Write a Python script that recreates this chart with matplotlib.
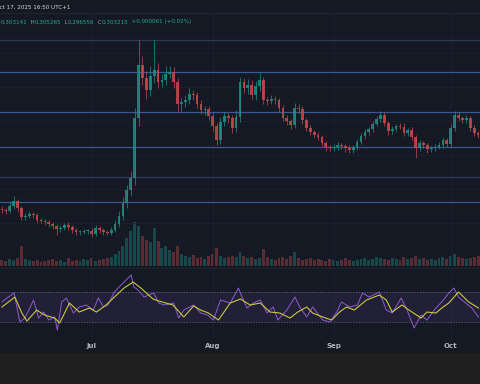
import numpy as np
import pandas as pd
import matplotlib
matplotlib.use("Agg")
import matplotlib.pyplot as plt
from matplotlib.patches import Rectangle

# daily closes (price), Jun 8 -> Oct 8 2025
closes = [0.149, 0.147, 0.157, 0.167, 0.153, 0.135, 0.137, 0.141, 0.139, 0.129,
          0.127, 0.125, 0.121, 0.117, 0.111, 0.113, 0.119, 0.115, 0.109, 0.105,
          0.106, 0.107, 0.108, 0.101, 0.113, 0.109, 0.105, 0.104, 0.109, 0.121,
          0.137, 0.163, 0.189, 0.213, 0.333, 0.439, 0.413, 0.389, 0.417, 0.429,
          0.405, 0.409, 0.421, 0.425, 0.405, 0.361, 0.365, 0.369, 0.381, 0.379,
          0.361, 0.349, 0.351, 0.337, 0.317, 0.289, 0.325, 0.337, 0.333, 0.313,
          0.335, 0.405, 0.393, 0.399, 0.379, 0.397, 0.409, 0.369, 0.367, 0.371,
          0.369, 0.353, 0.333, 0.327, 0.319, 0.353, 0.351, 0.329, 0.313, 0.305,
          0.299, 0.295, 0.283, 0.275, 0.273, 0.275, 0.279, 0.277, 0.273, 0.269,
          0.275, 0.285, 0.297, 0.305, 0.311, 0.321, 0.331, 0.339, 0.323, 0.307,
          0.311, 0.317, 0.316, 0.303, 0.309, 0.295, 0.273, 0.283, 0.279, 0.271,
          0.273, 0.275, 0.279, 0.289, 0.281, 0.313, 0.339, 0.333, 0.329, 0.333,
          0.313, 0.303, 0.299]
first_open = 0.152

# wick sizes above / below the body, in thousandths
wick_up = [6, 5, 8, 10, 4, 5, 6, 7, 5, 4,
           5, 4, 5, 4, 5, 6, 5, 6, 4, 5,
           4, 5, 4, 5, 6, 5, 4, 5, 6, 8,
           10, 12, 10, 14, 20, 50, 18, 15, 20, 60,
           14, 12, 16, 12, 10, 8, 9, 10, 12, 8,
           7, 8, 6, 7, 8, 6, 10, 8, 6, 7,
           14, 10, 8, 12, 9, 10, 14, 6, 7, 8,
           6, 5, 7, 6, 5, 10, 8, 6, 5, 6,
           5, 6, 5, 4, 5, 6, 5, 4, 5, 6,
           5, 6, 7, 6, 5, 6, 7, 8, 6, 5,
           6, 5, 6, 7, 5, 6, 5, 6, 5, 4,
           5, 6, 5, 6, 5, 8, 7, 6, 5, 6,
           5, 6, 5]
wick_dn = [5, 6, 4, 5, 8, 6, 5, 4, 6, 5,
           4, 5, 6, 5, 12, 5, 4, 6, 5, 6,
           5, 4, 6, 5, 4, 6, 5, 4, 5, 4,
           6, 8, 10, 12, 14, 16, 14, 18, 12, 14,
           12, 10, 9, 8, 12, 16, 14, 10, 8, 9,
           8, 7, 9, 8, 10, 10, 8, 7, 9, 10,
           8, 10, 9, 12, 8, 9, 10, 8, 7, 6,
           7, 8, 6, 7, 8, 6, 7, 8, 6, 5,
           6, 5, 6, 7, 5, 6, 5, 6, 7, 5,
           6, 5, 4, 5, 6, 5, 4, 5, 6, 7,
           5, 6, 5, 6, 5, 6, 20, 6, 5, 7,
           5, 6, 4, 5, 6, 5, 6, 5, 6, 5,
           6, 5, 6]

volume = [6, 5, 7, 6, 8, 20, 7, 6, 5, 6,
          4, 5, 6, 7, 5, 6, 4, 8, 5, 6,
          5, 7, 6, 8, 5, 6, 7, 8, 9, 12,
          15, 20, 28, 35, 44, 40, 30, 26, 24, 38,
          25, 18, 20, 16, 14, 20, 12, 10, 9, 11,
          8, 9, 7, 10, 12, 18, 10, 8, 9, 10,
          9, 14, 10, 8, 9, 7, 8, 17, 9, 7,
          6, 8, 9, 7, 10, 14, 8, 6, 7, 8,
          6, 7, 6, 5, 7, 6, 5, 6, 8, 6,
          5, 6, 7, 8, 6, 7, 9, 8, 7, 6,
          8, 7, 6, 9, 7, 8, 10, 7, 8, 6,
          7, 6, 8, 9, 7, 10, 12, 9, 8, 7,
          8, 9, 10]

# key horizontal levels drawn on the chart
levels_main = [0.425, 0.345, 0.275, 0.165]
levels_dim = [0.489, 0.215]
price_grid = [0.123, 0.191, 0.259, 0.327, 0.395, 0.463]

# RSI (purple) and its moving average (yellow), sampled by day index
rsi_day = [0.0, 1.3, 3.1, 4.6, 5.9, 8.1, 9.4, 10.7, 12.0, 13.5, 14.2, 15.3, 16.5, 18.3,
           19.8, 21.6, 23.4, 24.7, 26.0, 27.2, 28.8, 30.5, 33.1, 33.8, 34.9, 36.4, 38.9,
           40.2, 41.5, 44.0, 45.3, 46.6, 49.1, 50.9, 52.7, 54.2, 56.0, 58.5, 60.6, 61.1,
           62.8, 64.4, 66.2, 67.9, 69.5, 70.7, 73.0, 75.1, 76.3, 78.1, 79.6, 82.2, 84.0,
           85.8, 87.0, 89.1, 91.1, 92.4, 94.1, 96.7, 98.5, 100.0, 102.3, 103.8, 105.6,
           107.4, 108.9, 111.2, 112.7, 114.5, 115.8, 117.0, 118.8, 120.4, 122.1]
rsi_val = [56.7, 62, 68.7, 30, 35.3, 59.3, 35.3, 43.3, 32.7, 36.7, 19.3, 56.7, 62, 42,
           50, 52.7, 46, 62, 50, 52.7, 70, 79.3, 92.7, 76.7, 72.7, 63.3, 68.7,
           55.3, 52.7, 55.3, 35.3, 46, 52.7, 42, 39.3, 32.7, 59.3, 55.3, 75.3, 68.7,
           48.7, 55.3, 59.3, 42, 50, 32.7, 46, 63.3, 50, 36.7, 50, 32.7, 30,
           43.3, 56.7, 50, 52.7, 68.7, 63.3, 70, 46, 42, 62, 46, 22,
           39.3, 32.7, 48.7, 56.7, 68.7, 75.3, 63.3, 55.3, 48.7, 36.7]
ma_day = [0, 3.3, 5.1, 6.4, 8.9, 10.9, 13.5, 14.8, 17.3, 19.8, 22.4, 24.2, 26.7, 28.8,
          31.3, 33.6, 35.6, 38.7, 40.2, 42.0, 43.8, 45.0, 46.6, 49.1, 50.9, 52.9, 55.5,
          58.5, 61.1, 63.6, 66.2, 68.7, 71.2, 73.8, 75.8, 78.1, 79.6, 82.2, 84.5, 86.5,
          88.3, 90.3, 93.4, 96.7, 98.5, 100.0, 102.5, 104.3, 107.4, 108.9, 111.2, 112.7,
          114.5, 117.0, 119.6, 122.1]
ma_val = [50, 63.3, 42, 31.3, 46, 39.3, 35.3, 28.7, 55.3, 43.3, 48.7, 43.3, 52.7, 63.3,
          75.3, 83.3, 75.3, 60.7, 58, 55.3, 52.7, 46, 36.7, 51.3, 46, 42, 32.7,
          55.3, 60.7, 52.7, 55.3, 43.3, 42, 35.3, 43.3, 50, 42, 36.7, 32.7, 43.3,
          50, 46, 59.3, 66, 59.3, 43.3, 52.7, 46, 35.3, 43.3, 42, 48.7,
          55.3, 70, 56.7, 48.7]

BG = "#151924"
UP = "#1f8f84"
DN = "#c44a4a"
W, H = 480, 384

dates = pd.date_range("2025-06-08", periods=len(closes), freq="D")
x = np.arange(len(closes))
closes = np.array(closes)
opens = np.concatenate([[first_open], closes[:-1]])
highs = np.maximum(opens, closes) + np.array(wick_up) / 1000
lows = np.minimum(opens, closes) - np.array(wick_dn) / 1000
up = closes >= opens
colors = np.where(up, UP, DN)
month_ticks = x[dates.day == 1]
month_labels = [d.strftime("%b") for d in dates[dates.day == 1]]
xlim = (-0.5, len(closes) - 0.5)


def fy(px_top, px_bottom):
    # figure fraction (bottom, height) from pixel rows measured from the top
    return (H - px_bottom) / H, (px_bottom - px_top) / H


fig = plt.figure(figsize=(W / 100, H / 100), dpi=100, facecolor=BG)
fig.patches.append(Rectangle((0, 0), 1, 31 / H, transform=fig.transFigure,
                             color="#1f1f1f", zorder=0))
fig.add_artist(plt.Line2D([0, 1], [1 - 13 / H] * 2, color="#232835", lw=0.6))

# volume pane (behind the candles)
b, h = fy(200, 266)
axv = fig.add_axes([0, b, 1, h])
axv.set_facecolor(BG)
axv.bar(x, volume, width=0.75, color=colors, alpha=0.4, linewidth=0)
axv.set_xlim(*xlim)
axv.set_ylim(0, 66)
axv.axis("off")

# price pane
b, h = fy(14, 266)
ax = fig.add_axes([0, b, 1, h])
ax.patch.set_alpha(0)
for v in price_grid:
    ax.axhline(v, color="#1b2030", lw=0.6, zorder=0)
for t in month_ticks:
    ax.axvline(t, color="#1b2030", lw=0.6, zorder=0)
for v in levels_main:
    ax.axhline(v, color="#3a5894", lw=0.9, zorder=1)
for v in levels_dim:
    ax.axhline(v, color="#2b3a5a", lw=0.9, zorder=1)
ax.vlines(x, lows, highs, colors=colors, lw=0.6, alpha=0.85, zorder=2)
ax.bar(x, np.maximum(np.abs(closes - opens), 0.002), bottom=np.minimum(opens, closes),
       width=0.7, color=colors, alpha=0.85, linewidth=0, zorder=3)
ax.set_xlim(*xlim)
ax.set_ylim(0.037, 0.541)
ax.axis("off")

# RSI pane
b, h = fy(268, 338)
axr = fig.add_axes([0, b, 1, h])
axr.set_facecolor(BG)
axr.axhspan(30, 70, color="#7e57c2", alpha=0.12, lw=0)
axr.axhline(70, color="#6a6d78", lw=0.5, ls=(0, (2, 2)))
axr.axhline(30, color="#6a6d78", lw=0.5, ls=(0, (2, 2)))
for t in month_ticks:
    axr.axvline(t, color="#1b2030", lw=0.6, zorder=0)
axr.plot(rsi_day, rsi_val, color="#8e5bd0", lw=0.7)
axr.plot(ma_day, ma_val, color="#c9c93a", lw=0.8)
axr.set_xlim(*xlim)
axr.set_ylim(8.7, 102)
axr.set_yticks([])
axr.set_xticks(month_ticks)
axr.set_xticklabels(month_labels, fontsize=5, fontweight="bold", color="#b2b5be")
axr.tick_params(axis="x", length=0, pad=3.5)
for s in ["left", "right", "bottom"]:
    axr.spines[s].set_visible(False)
axr.spines["top"].set_color("#232835")
axr.spines["top"].set_linewidth(0.6)

# header
fig.text(-5 / W, 1 - 7 / H, "Oct 17, 2025 16:50 UTC+1", fontsize=4.1,
         color="#d1d4dc", va="center", ha="left")
parts = [("O", "#9598a1"), ("0.303141", "#22ab94"), ("  H", "#9598a1"),
         ("0.305265", "#22ab94"), ("  L", "#9598a1"), ("0.296556", "#22ab94"),
         ("  C", "#9598a1"), ("0.303215", "#22ab94"), ("  +0.000061 (+0.02%)", "#22ab94")]
fig.canvas.draw()
xpos = -4 / W
for txt, col in parts:
    t = fig.text(xpos, 1 - 22 / H, txt, fontsize=4.1, color=col, va="center", ha="left")
    bb = t.get_window_extent(renderer=fig.canvas.get_renderer())
    xpos += bb.width / W

fig.savefig("out.png", dpi=100, facecolor=BG)
